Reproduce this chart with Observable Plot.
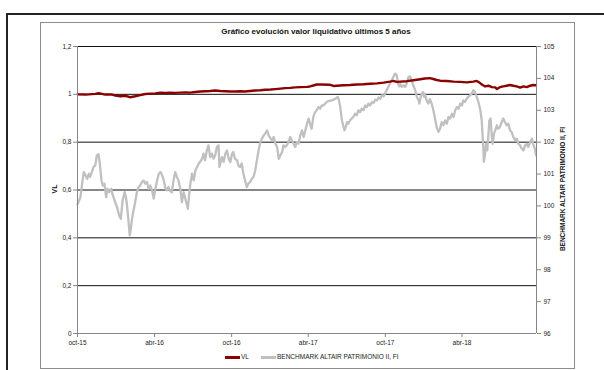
<!DOCTYPE html>
<html><head><meta charset="utf-8">
<script src="https://cdn.jsdelivr.net/npm/d3@7"></script>
<script src="https://cdn.jsdelivr.net/npm/@observablehq/plot@0.6"></script>
<style>
body{margin:0;width:604px;height:370px;overflow:hidden;background:#fff;position:relative;font-family:"Liberation Sans",Arial,sans-serif;}
.abs{position:absolute;}
#outer{left:6px;top:13px;width:640px;height:400px;border:2px solid #222;}
#inner{left:40px;top:22px;width:533px;height:345px;border:1px solid #8c8c8c;}
#title{left:116px;width:400px;top:27px;text-align:center;font-weight:bold;font-size:8px;color:#111;}
#ylab{left:54px;top:189px;font-weight:bold;font-size:7px;color:#111;transform:translate(-50%,-50%) rotate(-90deg);white-space:nowrap;}
#y2lab{left:562px;top:189px;font-weight:bold;font-size:6.5px;color:#111;transform:translate(-50%,-50%) rotate(-90deg);white-space:nowrap;}
#chart{left:0;top:36px;}
#legend{left:0;top:353px;width:604px;font-size:6.5px;color:#222;}
.sw{position:absolute;top:3px;height:2.5px;}
</style></head>
<body>
<div id="outer" class="abs"></div>
<div id="inner" class="abs"></div>
<div id="title" class="abs">Gráfico evolución valor liquidativo últimos 5 años</div>
<div id="ylab" class="abs">VL</div>
<div id="y2lab" class="abs">BENCHMARK ALTAIR PATRIMONIO II, FI</div>
<div id="chart" class="abs"></div>
<div id="legend" class="abs"></div>
<script>
// ---- data ----
const vlSeries = [
["2015-10-01",1.000],["2015-10-20",0.999],["2015-11-12",1.002],["2015-11-20",1.005],["2015-12-06",0.999],
["2015-12-22",0.999],["2015-12-30",0.995],["2016-01-11",0.992],["2016-01-22",0.994],["2016-02-03",0.988],
["2016-02-15",0.992],["2016-02-27",0.997],["2016-03-10",1.0015],["2016-03-22",1.003],["2016-04-03",1.004],
["2016-04-15",1.007],["2016-04-27",1.006],["2016-05-08",1.007],["2016-05-20",1.006],["2016-06-01",1.007],
["2016-06-13",1.008],["2016-06-25",1.007],["2016-07-07",1.010],["2016-07-19",1.012],["2016-07-30",1.013],
["2016-08-11",1.014],["2016-08-23",1.016],["2016-09-04",1.014],["2016-09-16",1.013],["2016-09-28",1.012],
["2016-10-09",1.012],["2016-10-21",1.013],["2016-11-02",1.012],["2016-11-14",1.014],["2016-11-26",1.016],
["2016-12-08",1.017],["2016-12-20",1.019],["2017-01-02",1.020],["2017-01-13",1.022],["2017-01-25",1.024],
["2017-02-05",1.026],["2017-02-17",1.027],["2017-03-01",1.029],["2017-03-13",1.030],["2017-03-29",1.031],
["2017-04-05",1.033],["2017-04-13",1.037],["2017-04-21",1.041],["2017-04-29",1.041],["2017-05-23",1.040],
["2017-05-31",1.035],["2017-06-08",1.036],["2017-06-24",1.038],["2017-07-09",1.039],["2017-07-25",1.041],
["2017-08-10",1.042],["2017-08-26",1.044],["2017-09-11",1.046],["2017-09-27",1.049],["2017-10-12",1.053],
["2017-10-20",1.056],["2017-10-28",1.052],["2017-11-05",1.053],["2017-11-21",1.055],["2017-12-07",1.059],
["2017-12-23",1.063],["2018-01-03",1.066],["2018-01-15",1.068],["2018-01-23",1.064],["2018-01-31",1.060],
["2018-02-08",1.057],["2018-02-24",1.056],["2018-03-12",1.053],["2018-03-28",1.052],["2018-04-12",1.050],
["2018-04-28",1.053],["2018-05-06",1.056],["2018-05-14",1.047],["2018-05-20",1.039],["2018-05-26",1.033],
["2018-06-03",1.036],["2018-06-11",1.030],["2018-06-19",1.029],["2018-06-23",1.022],["2018-06-30",1.030],
["2018-07-08",1.033],["2018-07-16",1.036],["2018-07-24",1.039],["2018-08-01",1.036],["2018-08-09",1.033],
["2018-08-17",1.028],["2018-08-25",1.033],["2018-09-02",1.030],["2018-09-10",1.036],["2018-09-17",1.039],
["2018-09-24",1.038]
];
const benchmarkSeries = [
["2015-10-01",100.05],["2015-10-08",100.28],["2015-10-12",100.70],["2015-10-16",101.06],["2015-10-20",100.96],
["2015-10-24",100.85],["2015-10-28",101.01],["2015-10-31",100.91],["2015-11-04",101.06],["2015-11-08",101.22],
["2015-11-12",101.27],["2015-11-16",101.59],["2015-11-20",101.62],["2015-11-23",101.33],["2015-11-27",100.80],
["2015-11-30",100.64],["2015-12-04",100.70],["2015-12-08",100.28],["2015-12-11",100.54],["2015-12-15",100.43],
["2015-12-20",100.54],["2015-12-23",100.38],["2015-12-28",100.17],["2016-01-03",99.96],["2016-01-08",99.70],
["2016-01-12",99.60],["2016-01-16",100.17],["2016-01-21",100.43],["2016-01-24",100.28],["2016-01-27",99.96],
["2016-01-30",99.55],["2016-02-02",99.08],["2016-02-04",99.23],["2016-02-07",99.55],["2016-02-11",99.86],
["2016-02-15",100.12],["2016-02-19",100.43],["2016-02-23",100.59],["2016-02-27",100.64],["2016-03-02",100.75],
["2016-03-06",100.80],["2016-03-10",100.70],["2016-03-14",100.75],["2016-03-18",100.54],["2016-03-22",100.64],
["2016-03-26",100.49],["2016-03-30",100.23],["2016-04-03",100.54],["2016-04-07",100.80],["2016-04-11",101.01],
["2016-04-15",101.06],["2016-04-19",100.96],["2016-04-23",100.80],["2016-04-27",100.54],["2016-04-30",100.49],
["2016-05-04",100.59],["2016-05-08",100.47],["2016-05-12",100.43],["2016-05-16",100.80],["2016-05-20",101.06],
["2016-05-24",100.91],["2016-05-28",100.80],["2016-06-01",100.54],["2016-06-05",100.12],["2016-06-09",100.43],
["2016-06-13",100.23],["2016-06-17",100.02],["2016-06-19",99.91],["2016-06-22",100.33],["2016-06-25",100.70],
["2016-06-29",101.01],["2016-07-03",100.80],["2016-07-07",101.11],["2016-07-11",101.22],["2016-07-15",101.33],
["2016-07-19",101.40],["2016-07-23",101.48],["2016-07-26",101.64],["2016-07-30",101.43],["2016-08-03",101.74],
["2016-08-07",101.90],["2016-08-11",101.53],["2016-08-15",101.64],["2016-08-19",101.48],["2016-08-23",101.59],
["2016-08-27",101.85],["2016-08-31",101.90],["2016-09-02",101.22],["2016-09-08",101.53],["2016-09-12",101.38],
["2016-09-16",101.64],["2016-09-20",101.74],["2016-09-24",101.48],["2016-09-28",101.38],["2016-10-02",101.64],
["2016-10-05",101.69],["2016-10-09",101.48],["2016-10-14",101.43],["2016-10-17",101.27],["2016-10-21",101.22],
["2016-10-25",101.33],["2016-10-29",101.01],["2016-11-02",100.80],["2016-11-06",100.59],["2016-11-10",100.70],
["2016-11-14",100.75],["2016-11-18",100.85],["2016-11-22",100.91],["2016-11-26",101.11],["2016-11-30",101.43],
["2016-12-04",101.74],["2016-12-08",102.00],["2016-12-12",102.11],["2016-12-16",102.21],["2016-12-20",102.27],
["2016-12-24",102.37],["2016-12-28",102.21],["2017-01-02",102.11],["2017-01-05",102.06],["2017-01-09",102.16],
["2017-01-13",101.95],["2017-01-17",101.85],["2017-01-21",101.48],["2017-01-25",101.59],["2017-01-29",101.69],
["2017-02-01",101.90],["2017-02-05",101.85],["2017-02-09",101.90],["2017-02-13",102.00],["2017-02-17",102.16],
["2017-02-21",102.06],["2017-02-25",101.95],["2017-03-01",101.85],["2017-03-05",102.00],["2017-03-09",101.95],
["2017-03-13",102.21],["2017-03-17",102.37],["2017-03-21",102.16],["2017-03-25",102.37],["2017-03-29",102.58],
["2017-04-02",102.74],["2017-04-05",102.58],["2017-04-09",102.42],["2017-04-13",102.79],["2017-04-17",102.94],
["2017-04-21",103.00],["2017-04-25",103.10],["2017-04-29",103.05],["2017-05-03",103.15],["2017-05-07",103.15],
["2017-05-11",103.21],["2017-05-15",103.26],["2017-05-19",103.29],["2017-05-27",103.31],["2017-06-04",103.36],
["2017-06-10",103.42],["2017-06-13",103.31],["2017-06-16",103.10],["2017-06-20",102.68],["2017-06-24",102.47],
["2017-06-26",102.37],["2017-06-29",102.47],["2017-07-02",102.63],["2017-07-05",102.58],["2017-07-09",102.68],
["2017-07-13",102.74],["2017-07-17",102.79],["2017-07-21",102.89],["2017-07-25",102.84],["2017-07-29",103.00],
["2017-08-02",102.94],["2017-08-06",103.05],["2017-08-10",103.00],["2017-08-14",103.15],["2017-08-18",103.10],
["2017-08-22",103.21],["2017-08-26",103.15],["2017-08-30",103.26],["2017-09-03",103.23],["2017-09-07",103.33],
["2017-09-11",103.31],["2017-09-15",103.40],["2017-09-19",103.36],["2017-09-23",103.47],["2017-09-27",103.44],
["2017-09-30",103.52],["2017-10-04",103.63],["2017-10-08",103.73],["2017-10-12",103.84],["2017-10-16",103.94],
["2017-10-20",104.04],["2017-10-24",104.15],["2017-10-28",104.10],["2017-10-31",103.84],["2017-11-03",103.75],
["2017-11-05",103.84],["2017-11-09",103.73],["2017-11-13",103.78],["2017-11-17",103.73],["2017-11-21",103.84],
["2017-11-25",104.04],["2017-11-29",104.06],["2017-12-02",103.94],["2017-12-05",103.84],["2017-12-08",103.73],
["2017-12-11",103.63],["2017-12-15",103.42],["2017-12-19",103.31],["2017-12-21",103.21],["2017-12-25",103.47],
["2017-12-29",103.57],["2018-01-01",103.42],["2018-01-03",103.52],["2018-01-07",103.31],["2018-01-11",103.21],
["2018-01-15",103.35],["2018-01-19",103.21],["2018-01-23",103.00],["2018-01-27",102.74],["2018-01-31",102.47],
["2018-02-04",102.32],["2018-02-08",102.42],["2018-02-12",102.63],["2018-02-16",102.53],["2018-02-20",102.68],
["2018-02-24",102.58],["2018-02-28",102.79],["2018-03-04",102.74],["2018-03-08",102.89],["2018-03-12",102.79],
["2018-03-16",103.00],["2018-03-20",103.10],["2018-03-24",103.05],["2018-03-28",103.21],["2018-04-01",103.15],
["2018-04-04",103.31],["2018-04-08",103.26],["2018-04-12",103.36],["2018-04-16",103.42],["2018-04-20",103.47],
["2018-04-24",103.52],["2018-04-28",103.63],["2018-05-02",103.57],["2018-05-06",103.42],["2018-05-10",103.26],
["2018-05-14",103.05],["2018-05-18",102.68],["2018-05-20",102.16],["2018-05-22",101.74],["2018-05-23",101.38],
["2018-05-26",101.64],["2018-05-28",101.95],["2018-05-31",101.74],["2018-06-03",102.27],["2018-06-05",102.68],
["2018-06-08",102.74],["2018-06-11",102.16],["2018-06-13",101.95],["2018-06-16",102.27],["2018-06-19",102.37],
["2018-06-23",102.53],["2018-06-26",102.42],["2018-06-30",102.47],["2018-07-04",102.63],["2018-07-08",102.74],
["2018-07-12",102.63],["2018-07-16",102.53],["2018-07-20",102.58],["2018-07-24",102.37],["2018-07-28",102.32],
["2018-08-01",102.16],["2018-08-05",102.06],["2018-08-09",102.11],["2018-08-13",101.95],["2018-08-17",101.90],
["2018-08-21",101.80],["2018-08-25",101.74],["2018-08-29",101.90],["2018-09-02",101.95],["2018-09-05",101.85],
["2018-09-10",102.00],["2018-09-14",102.11],["2018-09-17",101.95],["2018-09-21",101.80],["2018-09-24",101.59]
];
const xDomain = ["2015-10-01","2018-09-25"];
const xTickDates = ["2015-10-01","2016-04-01","2016-10-01","2017-04-01","2017-10-01","2018-04-01"];
const xTickLabels = ["oct-15","abr-16","oct-16","abr-17","oct-17","abr-18"];
const leftTicks = [0,0.2,0.4,0.6,0.8,1,1.2];
const rightTicks = [96,97,98,99,100,101,102,103,104,105];
const rightMin = 96, rightMax = 105, leftMax = 1.2;
const seriesNames = ["VL","BENCHMARK ALTAIR PATRIMONIO II, FI"];
const seriesColors = ["#8b0000","#c0c0c0"];

// ---- chart ----
const parse = d3.utcParse("%Y-%m-%d");
const toLeft = b => (b - rightMin) / (rightMax - rightMin) * leftMax;
const vl = vlSeries.map(([d,v]) => ({date: parse(d), v}));
const bench = benchmarkSeries.map(([d,v]) => ({date: parse(d), v}));
const tickDates = xTickDates.map(parse);
const dom = xDomain.map(parse);
const axisGray = "#868686";

const chart = Plot.plot({
  width: 604, height: 322,
  marginLeft: 77, marginRight: 68, marginTop: 10, marginBottom: 25,
  x: {type: "utc", domain: dom},
  y: {domain: [0, leftMax]},
  style: {fontFamily: "'Liberation Sans', Arial, sans-serif", fontSize: "6.5px", background: "transparent", color: "#222"},
  marks: [
    Plot.ruleY(leftTicks.filter(t => t > 0), {stroke: "#111", strokeWidth: 1}),
    Plot.line(bench, {x: "date", y: d => toLeft(d.v), stroke: seriesColors[1], strokeWidth: 2.3}),
    Plot.line(vl, {x: "date", y: "v", stroke: seriesColors[0], strokeWidth: 2.4}),
    Plot.ruleX([dom[0]], {stroke: axisGray}),
    Plot.ruleX([dom[1]], {stroke: axisGray}),
    Plot.ruleY([0], {stroke: axisGray}),
    Plot.axisY(leftTicks, {anchor: "left", tickSize: 4, tickPadding: 2, stroke: axisGray, fill: "#222", label: null,
      tickFormat: v => String(+v.toFixed(1)).replace(".", ",")}),
    Plot.axisY(rightTicks.map(toLeft), {anchor: "right", tickSize: 4, tickPadding: 3, stroke: axisGray, fill: "#222", label: null,
      tickFormat: v => String(Math.round(rightMin + v / leftMax * (rightMax - rightMin)))}),
    Plot.axisX(tickDates, {anchor: "bottom", tickSize: 4, tickPadding: 3, stroke: axisGray, fill: "#222", label: null,
      tickFormat: d => xTickLabels[tickDates.findIndex(t => +t === +d)]})
  ]
});
document.getElementById("chart").append(chart);

// ---- legend ----
const lg = document.getElementById("legend");
const items = [
  {name: seriesNames[0], color: seriesColors[0], sx: 225, sw: 15},
  {name: seriesNames[1], color: seriesColors[1], sx: 261, sw: 15}
];
for (const it of items) {
  const s = document.createElement("div");
  s.className = "sw"; s.style.left = it.sx + "px"; s.style.width = it.sw + "px"; s.style.background = it.color;
  lg.append(s);
  const t = document.createElement("div");
  t.style.position = "absolute"; t.style.left = (it.sx + it.sw + 1) + "px"; t.style.top = "0px"; t.style.whiteSpace = "nowrap";
  t.textContent = it.name;
  lg.append(t);
}
</script>
</body></html>
